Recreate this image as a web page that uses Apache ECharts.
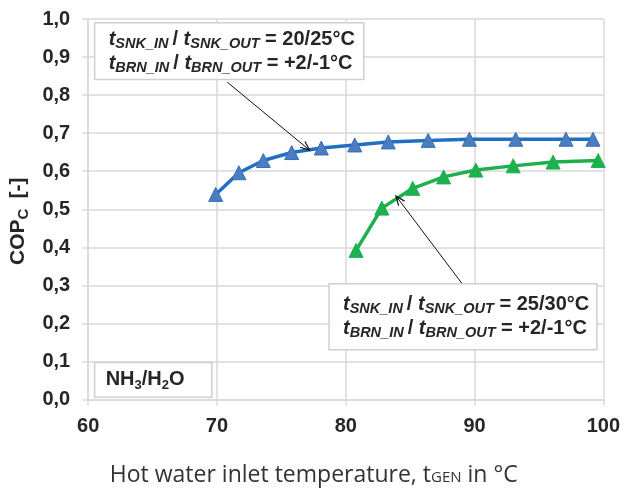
<!DOCTYPE html>
<html><head><meta charset="utf-8">
<script src="https://cdn.jsdelivr.net/npm/echarts@6/dist/echarts.min.js"></script>
<style>html,body{margin:0;padding:0;background:#fff}#c{width:623px;height:492px}</style>
</head><body><div id="c"></div>
<script>
// ---- data ----
const blueX = [69.9, 71.7, 73.6, 75.8, 78.1, 80.7, 83.3, 86.4, 89.6, 93.2, 97.1, 99.2];
const blueY = [0.539, 0.596, 0.628, 0.649, 0.661, 0.669, 0.677, 0.681, 0.684, 0.684, 0.684, 0.684];
const greenX = [80.8, 82.8, 85.2, 87.6, 90.1, 93.0, 96.1, 99.6];
const greenY = [0.392, 0.503, 0.555, 0.585, 0.603, 0.614, 0.624, 0.628];
const xTicks = [60, 70, 80, 90, 100];
const yTicks = [0.0, 0.1, 0.2, 0.3, 0.4, 0.5, 0.6, 0.7, 0.8, 0.9, 1.0];
const label1 = ['20/25°C', '+2/-1°C'];
const label2 = ['25/30°C', '+2/-1°C'];

// ---- layout (annotation anchors in data coordinates) ----
const box1 = {x0: 60.5, y0: 0.99, x1: 81.4, y1: 0.841};
const arrow1 = {from: [70.8, 0.834], to: [77.2, 0.655]};
const box2 = {x0: 78.7, y0: 0.304, x1: 99.5, y1: 0.131};
const arrow2 = {from: [89.0, 0.306], to: [83.9, 0.535]};
const box3 = {x0: 60.5, y0: 0.097, x1: 69.6, y1: 0.006};

const FONT = 'Arial, "Liberation Sans", sans-serif';
const GRID = '#d9d9d9';
const TXT = '#262626';

const chart = echarts.init(document.getElementById('c'), null, {renderer: 'canvas'});
const toPairs = (xs, ys) => xs.map((x, i) => [x, ys[i]]);

chart.setOption({
  animation: false,
  grid: {left: 88, right: 19, top: 19, bottom: 87, containLabel: false},
  xAxis: {
    type: 'value', min: xTicks[0], max: xTicks[xTicks.length - 1], interval: 10,
    axisLine: {show: true, lineStyle: {color: GRID, width: 1.5}},
    axisTick: {show: true, inside: false, length: 6, lineStyle: {color: GRID, width: 1.5}},
    splitLine: {show: true, lineStyle: {color: GRID, width: 1.5}},
    axisLabel: {color: TXT, fontFamily: FONT, fontWeight: 'bold', fontSize: 20, margin: 17},
    name: '{a|Hot water inlet temperature, t}{s|GEN}{a| in °C}',
    nameLocation: 'middle', nameGap: 62,
    nameTextStyle: {
      padding: [0, 64, 0, 0],
      rich: {
        a: {fontFamily: '"Open Sans", sans-serif', fontSize: 23, color: '#333', lineHeight: 28, verticalAlign: 'middle'},
        s: {fontFamily: '"Open Sans", sans-serif', fontSize: 15, color: '#333', lineHeight: 18, verticalAlign: 'middle', padding: [5, 0, 0, 0]}
      }
    }
  },
  yAxis: {
    type: 'value', min: 0, max: 1, interval: 0.1,
    axisLine: {show: true, lineStyle: {color: GRID, width: 1.5}},
    axisTick: {show: true, inside: false, length: 6, lineStyle: {color: GRID, width: 1.5}},
    splitLine: {show: true, lineStyle: {color: GRID, width: 1.5}},
    axisLabel: {color: TXT, fontFamily: FONT, fontWeight: 'bold', fontSize: 20, margin: 18,
      formatter: v => v.toFixed(1).replace('.', ',')},
    name: '{a|COP}{s|C}{a|\u2009 [-]}',
    nameLocation: 'middle', nameGap: 41, nameRotate: 90,
    nameTextStyle: {
      padding: [0, 24, 0, 0],
      rich: {
        a: {fontFamily: FONT, fontWeight: 'bold', fontSize: 21, color: TXT, lineHeight: 26},
        s: {fontFamily: FONT, fontWeight: 'bold', fontSize: 15, color: TXT, lineHeight: 20, verticalAlign: 'bottom'}
      }
    }
  },
  series: [
    {type: 'line', data: toPairs(blueX, blueY), symbol: 'triangle', symbolSize: 14,
      lineStyle: {color: '#1f70c1', width: 3.5},
      itemStyle: {color: '#4a7ec0', borderColor: '#3a6fb5', borderWidth: 1}, z: 3},
    {type: 'line', data: toPairs(greenX, greenY), symbol: 'triangle', symbolSize: 14,
      lineStyle: {color: '#1db04e', width: 3.5},
      itemStyle: {color: '#1db04e', borderColor: '#1db04e', borderWidth: 1}, z: 3}
  ]
});

const px = p => chart.convertToPixel({gridIndex: 0}, p);
const richBox = {
  t: {fontFamily: FONT, fontWeight: 'bold', fontStyle: 'italic', fontSize: 20, fill: TXT, lineHeight: 24},
  s: {fontFamily: FONT, fontWeight: 'bold', fontStyle: 'italic', fontSize: 14.5, fill: TXT, lineHeight: 20, verticalAlign: 'bottom'},
  n: {fontFamily: FONT, fontWeight: 'bold', fontSize: 20, fill: TXT, lineHeight: 24}
};
function boxText(vals) {
  return '{t|t}{s|SNK_IN}{n|\u2009/ }{t|t}{s|SNK_OUT}{n| = ' + vals[0] + '}\n' +
         '{t|t}{s|BRN_IN}{n|\u2009/ }{t|t}{s|BRN_OUT}{n| = ' + vals[1] + '}';
}
function boxGraphic(b, content, rich, padL) {
  const a = px([b.x0, b.y0]), c = px([b.x1, b.y1]);
  return [
    {type: 'rect', shape: {x: a[0], y: a[1], width: c[0] - a[0], height: c[1] - a[1]},
      style: {fill: '#fff', stroke: '#cfcfcf', lineWidth: 1.5}, z: 10},
    {type: 'text', x: a[0] + padL, y: (a[1] + c[1]) / 2,
      style: {text: content, rich: rich, verticalAlign: 'middle', align: 'left'}, z: 11}
  ];
}
function arrowGraphic(ar) {
  const f = px(ar.from), t = px(ar.to);
  const ang = Math.atan2(t[1] - f[1], t[0] - f[0]);
  const L = 10, w = 0.38;
  const p1 = [t[0] - L * Math.cos(ang - w), t[1] - L * Math.sin(ang - w)];
  const p2 = [t[0] - L * Math.cos(ang + w), t[1] - L * Math.sin(ang + w)];
  return [
    {type: 'line', shape: {x1: f[0], y1: f[1], x2: t[0], y2: t[1]}, style: {stroke: '#111', lineWidth: 1}, z: 12},
    {type: 'polyline', shape: {points: [p1, t, p2]}, style: {stroke: '#111', lineWidth: 1.2, fill: null}, z: 12}
  ];
}
const nhRich = {
  a: {fontFamily: FONT, fontWeight: 'bold', fontSize: 20, fill: TXT, lineHeight: 24},
  s: {fontFamily: FONT, fontWeight: 'bold', fontSize: 13, fill: TXT, lineHeight: 19, verticalAlign: 'bottom'}
};
chart.setOption({
  graphic: [].concat(
    boxGraphic(box1, boxText(label1), richBox, 14),
    arrowGraphic(arrow1),
    boxGraphic(box2, boxText(label2), richBox, 14),
    arrowGraphic(arrow2),
    boxGraphic(box3, '{a|NH}{s|3}{a|/H}{s|2}{a|O}', nhRich, 11)
  )
});
</script></body></html>
